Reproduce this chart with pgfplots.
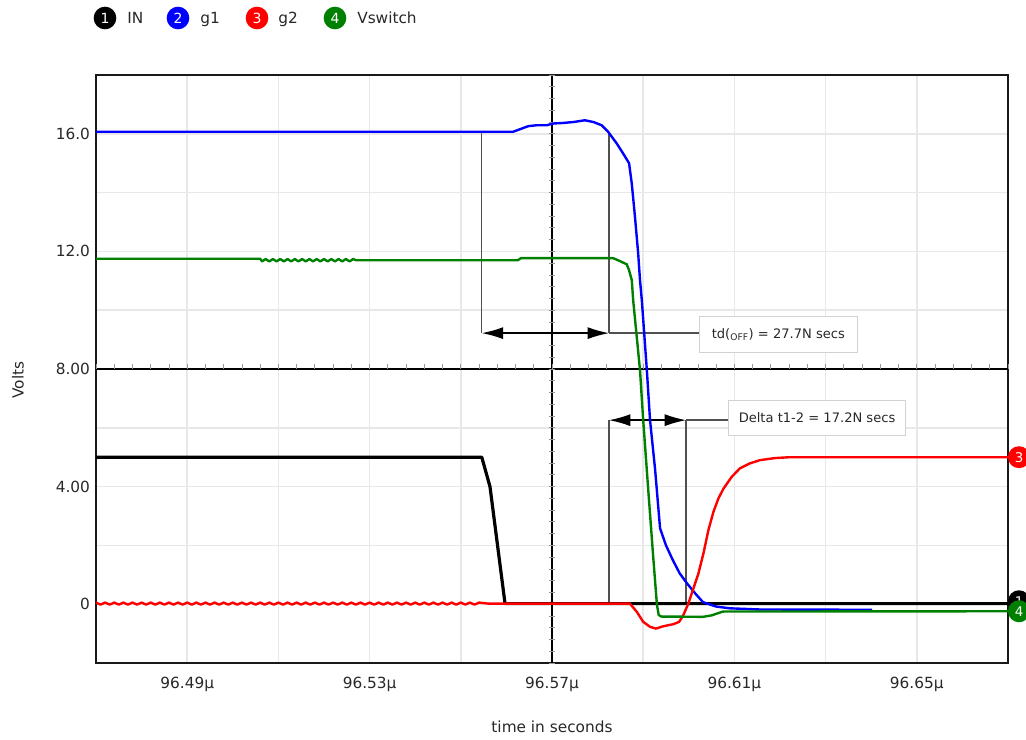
\documentclass[border=0pt]{standalone}
\usepackage{pgfplots}
\pgfplotsset{compat=1.18}
\usepackage{fontspec}
\setmainfont{DejaVu Sans}
\usetikzlibrary{arrows.meta}
\definecolor{gcol}{RGB}{0,128,0}
\definecolor{bcol}{RGB}{0,0,255}
\definecolor{rcol}{RGB}{255,0,0}
\definecolor{gridc}{RGB}{232,232,232}
\definecolor{annc}{RGB}{80,80,80}
\definecolor{txtc}{RGB}{40,40,40}
% x values: time in ns after 96.47 microseconds
\begin{document}
\begin{tikzpicture}
\begin{axis}[
  at={(0pt,0pt)}, anchor=south west,
  scale only axis, width=684pt, height=441pt,
  xmin=0, xmax=200, ymin=-2, ymax=18,
  clip=false,
  axis line style={line width=2pt, black!90},
  xtick={20,60,100,140,180},
  xticklabels={96.49µ,96.53µ,96.57µ,96.61µ,96.65µ},
  minor xtick={40,80,120,160},
  ytick={0,4,8,12,16},
  yticklabels={0,4.00,8.00,12.0,16.0},
  minor ytick={2,6,10,14},
  major tick length=0pt, minor tick length=0pt,
  grid=both,
  major grid style={gridc, line width=1.1pt},
  minor grid style={gridc, line width=1.1pt},
  tick label style={font=\fontsize{11.5}{13}\selectfont, text=txtc},
  xticklabel style={yshift=-7pt},
  yticklabel style={xshift=-1pt},
  xlabel={time in seconds},
  xlabel style={at={(axis description cs:0.5,0)}, anchor=center, yshift=-48pt, font=\fontsize{11.5}{13}\selectfont, text=txtc},
  ylabel={Volts},
  ylabel style={at={(axis description cs:-0.0855,0.481)}, anchor=center, font=\fontsize{11.5}{13}\selectfont, text=txtc},
]
% central cross lines
\draw[black, line width=1.6pt] (axis cs:100,-2) -- (axis cs:100,18);
\draw[black, line width=1.6pt] (axis cs:0,8) -- (axis cs:200,8);
\pgfplotsinvokeforeach{-25,...,25}{
  \draw[gray!80, line width=0.6pt] (axis cs:100,8) ++(-2.5pt,#1*8.82pt) -- ++(5pt,0pt);
  \draw[gray!80, line width=0.6pt] (axis cs:100,8) ++(#1*13.68pt,0pt) -- ++(0pt,3.5pt);
}
% annotations
\draw[annc, line width=1pt] (axis cs:84.6,16.07) -- (axis cs:84.6,9.22);
\draw[annc, line width=1pt] (axis cs:112.5,16.07) -- (axis cs:112.5,9.22);
\draw[annc, line width=1pt] (axis cs:112.5,9.22) -- (axis cs:132.2,9.22);
\draw[black, line width=1pt, {Latex[length=16pt,width=9pt]}-{Latex[length=16pt,width=9pt]}] (axis cs:84.6,9.22) -- (axis cs:112.5,9.22);
\draw[annc, line width=1pt] (axis cs:112.5,6.26) -- (axis cs:112.5,0);
\draw[annc, line width=1pt] (axis cs:129.4,6.26) -- (axis cs:129.4,0);
\draw[annc, line width=1pt] (axis cs:129.4,6.26) -- (axis cs:138.6,6.26);
\draw[black, line width=1pt, {Latex[length=16pt,width=9pt]}-{Latex[length=16pt,width=9pt]}] (axis cs:112.5,6.26) -- (axis cs:129.4,6.26);
% IN
\addplot[black, line width=2.4pt, line join=round] coordinates {
(0,5.0) (84.6,5.0) (86.4,4.0) (89.7,0.02) (200,0.02)};
% g1
\addplot[bcol, line width=1.8pt, line join=round] coordinates {
(0,16.07) (91.5,16.07) (93.4,16.18) (94.8,16.26) (96.6,16.29) (98.8,16.29)
(100.3,16.35) (102.5,16.37) (104.7,16.40) (107.2,16.46) (109.1,16.40) (110.9,16.29)
(112.3,16.07) (114.2,15.67) (115.6,15.33) (116.9,15.00) (117.5,14.30) (118.2,13.17)
(118.9,11.93) (119.3,11.02) (119.7,10.34) (120.8,7.96) (121.5,6.26) (122.6,4.60)
(123.7,2.58) (125.0,2.00) (126.5,1.50) (128.0,1.05) (129.6,0.71) (131.5,0.35)
(133.1,0.07) (136.0,-0.08) (139.0,-0.14) (145.6,-0.18) (170.2,-0.19)};
% g2
\addplot[rcol, line width=1.8pt, line join=round] coordinates {
(0,0.055) (1,-0.015) (2,0.055) (3,-0.015) (4,0.055) (5,-0.015) (6,0.055) (7,-0.015)
(8,0.055) (9,-0.015) (10,0.055) (11,-0.015) (12,0.055) (13,-0.015) (14,0.055) (15,-0.015)
(16,0.055) (17,-0.015) (18,0.055) (19,-0.015) (20,0.055) (21,-0.015) (22,0.055) (23,-0.015)
(24,0.055) (25,-0.015) (26,0.055) (27,-0.015) (28,0.055) (29,-0.015) (30,0.055) (31,-0.015)
(32,0.055) (33,-0.015) (34,0.055) (35,-0.015) (36,0.055) (37,-0.015) (38,0.055) (39,-0.015)
(40,0.055) (41,-0.015) (42,0.055) (43,-0.015) (44,0.055) (45,-0.015) (46,0.055) (47,-0.015)
(48,0.055) (49,-0.015) (50,0.055) (51,-0.015) (52,0.055) (53,-0.015) (54,0.055) (55,-0.015)
(56,0.055) (57,-0.015) (58,0.055) (59,-0.015) (60,0.055) (61,-0.015) (62,0.055) (63,-0.015)
(64,0.055) (65,-0.015) (66,0.055) (67,-0.015) (68,0.055) (69,-0.015) (70,0.055) (71,-0.015)
(72,0.055) (73,-0.015) (74,0.055) (75,-0.015) (76,0.055) (77,-0.015) (78,0.055) (79,-0.015)
(80,0.055) (81,-0.015) (82,0.055) (83,-0.015) (84,0.055)
(86.0,0.02) (117.1,0.02) (118.6,-0.26) (120.0,-0.60) (121.5,-0.77) (122.8,-0.83)
(124.4,-0.75) (126.6,-0.68) (127.9,-0.60) (128.8,-0.37) (129.9,0.02) (131.0,0.53)
(132.1,1.04) (133.2,1.72) (134.3,2.52) (135.4,3.14) (136.5,3.60) (137.6,3.93)
(139.4,4.33) (141.2,4.62) (143.4,4.79) (145.6,4.90) (148.9,4.97) (152.2,5.00) (200,5.00)};
% Vswitch
\addplot[gcol, line width=1.8pt, line join=round] coordinates {
(0,11.75) (36.0,11.75)
(36.4,11.66) (37.2,11.74) (38.0,11.66) (38.8,11.74) (39.6,11.66) (40.4,11.74)
(41.2,11.66) (42.0,11.74) (42.8,11.66) (43.6,11.74) (44.4,11.66) (45.2,11.74)
(46.0,11.66) (46.8,11.74) (47.6,11.66) (48.4,11.74) (49.2,11.66) (50.0,11.74)
(50.8,11.66) (51.6,11.74) (52.4,11.66) (53.2,11.74) (54.0,11.66) (54.8,11.74)
(55.6,11.66) (56.4,11.74)
(57.0,11.70) (92.5,11.70) (93.2,11.77) (113.4,11.77) (114.9,11.67) (116.4,11.56)
(116.9,11.36) (117.5,11.02) (117.8,10.34) (119.3,7.96) (120.0,6.26) (121.1,3.90)
(122.2,1.60) (123.0,0.00) (123.4,-0.37) (124.0,-0.42) (133.1,-0.43) (135.0,-0.38)
(137.5,-0.25) (200,-0.24)};
% boxes
\node[draw=gray!35, fill=white, line width=0.8pt, minimum width=118.5pt, minimum height=27pt,
  anchor=west, inner sep=0pt, font=\fontsize{9.8}{12}\selectfont, text=txtc]
  at (axis cs:132.2,9.18) {td(\textsubscript{OFF}) = 27.7N secs};
\node[draw=gray!35, fill=white, line width=0.8pt, minimum width=132.75pt, minimum height=26.25pt,
  anchor=west, inner sep=0pt, font=\fontsize{9.8}{12}\selectfont, text=txtc]
  at (axis cs:138.6,6.34) {Delta t1-2 = 17.2N secs};
% right-edge trace markers
\addplot[draw=none, mark=none, nodes near coords={3},
  every node near coord/.style={circle, fill=rcol, text=white, inner sep=0pt, minimum size=16.5pt,
  anchor=center, xshift=8.25pt, font=\fontsize{10}{12}\selectfont}] coordinates {(200,5.0)};
\addplot[draw=none, mark=none, nodes near coords={1},
  every node near coord/.style={circle, fill=black, text=white, inner sep=0pt, minimum size=16.5pt,
  anchor=center, xshift=8.25pt, font=\fontsize{10}{12}\selectfont}] coordinates {(200,0.1)};
\addplot[draw=none, mark=none, nodes near coords={4},
  every node near coord/.style={circle, fill=gcol, text=white, inner sep=0pt, minimum size=16.5pt,
  anchor=center, xshift=8.25pt, font=\fontsize{10}{12}\selectfont}] coordinates {(200,-0.24)};
\end{axis}
% legend
\foreach \xc/\col/\num/\xt/\lab in {6.75/black/1/23.25/IN, 61.5/bcol/2/78/g1, 120.75/rcol/3/136.5/g2, 179.25/gcol/4/195.75/Vswitch}{
  \node[circle, fill=\col, text=white, inner sep=0pt, minimum size=17pt, font=\fontsize{10.5}{12}\selectfont] at (\xc pt,483.75pt) {\num};
  \node[anchor=base west, inner sep=0pt, font=\fontsize{11.5}{13}\selectfont, text=txtc] at (\xt pt,479.6pt) {\lab};
}
\pgfresetboundingbox
\useasboundingbox (-72pt,-57.75pt) rectangle (697.5pt,497.25pt);
\end{tikzpicture}
\end{document}
